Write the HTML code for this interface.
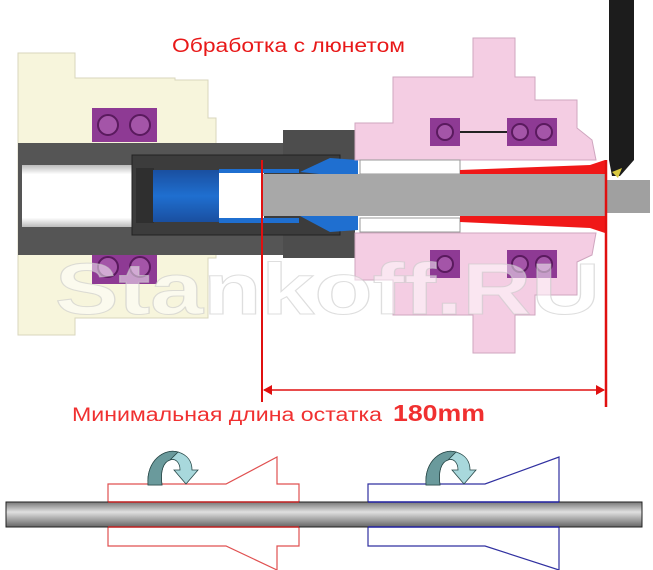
<!DOCTYPE html>
<html><head><meta charset="utf-8"><style>
html,body{margin:0;padding:0;background:#fff;width:653px;height:570px;overflow:hidden}
svg{display:block}
</style></head><body>
<svg width="653" height="570" viewBox="0 0 653 570" xmlns="http://www.w3.org/2000/svg">
<defs>
<linearGradient id="bar" x1="0" y1="0" x2="0" y2="1">
<stop offset="0" stop-color="#777"/><stop offset="0.4" stop-color="#e0e0e0"/><stop offset="1" stop-color="#666"/>
</linearGradient>
<linearGradient id="bore" x1="0" y1="0" x2="0" y2="1">
<stop offset="0" stop-color="#bbb"/><stop offset="0.15" stop-color="#fff"/><stop offset="0.85" stop-color="#fff"/><stop offset="1" stop-color="#bbb"/>
</linearGradient>
<linearGradient id="blue" x1="0" y1="0" x2="0" y2="1">
<stop offset="0" stop-color="#1a4fa0"/><stop offset="0.5" stop-color="#1f6fd0"/><stop offset="1" stop-color="#1a4fa0"/>
</linearGradient>
</defs>
<polygon points="18,53 75,53 75,78 175,78 175,80 208,80 208,118 216,118 216,258 208,258 208,318 75,318 75,335 18,335" fill="#f7f5dc" stroke="#d8d6bd" stroke-width="1"/>
<rect x="92" y="108" width="65" height="34" fill="#8e3a94"/>
<circle cx="108" cy="125" r="10" fill="#a455a8" stroke="#5a1a5e" stroke-width="2"/>
<circle cx="140" cy="125" r="10" fill="#a455a8" stroke="#5a1a5e" stroke-width="2"/>
<rect x="92" y="250" width="65" height="34" fill="#8e3a94"/>
<circle cx="108" cy="267" r="10" fill="#a455a8" stroke="#5a1a5e" stroke-width="2"/>
<circle cx="140" cy="267" r="10" fill="#a455a8" stroke="#5a1a5e" stroke-width="2"/>
<rect x="18" y="143" width="330" height="112" fill="#555"/>
<rect x="283" y="130" width="72" height="128" fill="#4d4d4d"/>
<rect x="22" y="165" width="112" height="62" fill="url(#bore)"/>
<rect x="132" y="155" width="208" height="80" fill="#3c3c3c" stroke="#222"/>
<rect x="136" y="168" width="18" height="55" fill="#2f2f2f"/>
<rect x="153" y="170" width="66" height="52" fill="url(#blue)"/>
<rect x="219" y="170" width="45" height="52" fill="#fff"/>
<rect x="219" y="218" width="80" height="5" fill="#1f6fd0"/>
<rect x="219" y="169" width="80" height="4" fill="#1f6fd0"/>
<polygon points="300,172 330,158 358,160 358,178" fill="#1f6fd0"/>
<polygon points="300,216 330,232 358,230 358,214" fill="#1f6fd0"/>
<polygon points="355,123 393,123 393,77 473,77 473,38 515,38 515,77 535,77 535,100 577,100 577,128 592,140 596,160 355,160" fill="#f4cde3" stroke="#cfa6bf"/>
<polygon points="355,233 596,233 592,255 577,262 577,295 535,295 535,315 515,315 515,353 473,353 473,315 393,315 393,280 355,280" fill="#f4cde3" stroke="#cfa6bf"/>
<rect x="360" y="160" width="100" height="14" fill="#fff" stroke="#999"/>
<rect x="360" y="218" width="100" height="14" fill="#fff" stroke="#999"/>
<polygon points="460,170 590,165 605,160 605,233 590,228 460,222" fill="#f01818"/>
<rect x="430" y="118" width="30" height="28" fill="#8e3a94"/><circle cx="445" cy="132" r="8" fill="#a455a8" stroke="#5a1a5e" stroke-width="2"/>
<line x1="460" y1="132" x2="507" y2="132" stroke="#222" stroke-width="2"/>
<rect x="507" y="118" width="50" height="28" fill="#8e3a94"/><circle cx="520" cy="132" r="8" fill="#a455a8" stroke="#5a1a5e" stroke-width="2"/><circle cx="544" cy="132" r="8" fill="#a455a8" stroke="#5a1a5e" stroke-width="2"/>
<rect x="430" y="250" width="30" height="28" fill="#8e3a94"/><circle cx="445" cy="264" r="8" fill="#a455a8" stroke="#5a1a5e" stroke-width="2"/>
<rect x="507" y="250" width="50" height="28" fill="#8e3a94"/><circle cx="520" cy="264" r="8" fill="#a455a8" stroke="#5a1a5e" stroke-width="2"/><circle cx="544" cy="264" r="8" fill="#a455a8" stroke="#5a1a5e" stroke-width="2"/>
<rect x="262" y="174" width="343" height="42" fill="#a8a8a8"/>
<rect x="605" y="180" width="45" height="33" fill="#a0a0a0"/>
<rect x="609" y="0" width="25" height="160" fill="#1c1c1c"/>
<polygon points="609,160 634,160 620,176 612,176" fill="#1c1c1c"/>
<polygon points="612,172 622,168 618,178" fill="#d8c840"/>
<text x="55" y="314" font-family="Liberation Sans, sans-serif" font-size="72" font-weight="bold" textLength="545" lengthAdjust="spacingAndGlyphs" fill="rgba(255,255,255,0.5)" stroke="rgba(200,200,200,0.6)" stroke-width="1">Stankoff.RU</text>
<line x1="262" y1="160" x2="262" y2="402" stroke="#e01010" stroke-width="2"/>
<line x1="606" y1="160" x2="606" y2="407" stroke="#e01010" stroke-width="2.5"/>
<line x1="264" y1="390" x2="604" y2="390" stroke="#e01010" stroke-width="1.5"/>
<polygon points="263,390 272,385 272,395" fill="#e01010"/>
<polygon points="605,390 596,385 596,395" fill="#e01010"/>
<text x="172" y="52" font-family="Liberation Sans, sans-serif" font-size="19" textLength="233" lengthAdjust="spacingAndGlyphs" fill="#e81818">Обработка с люнетом</text>
<text x="72" y="421" font-family="Liberation Sans, sans-serif" font-size="19" textLength="310" lengthAdjust="spacingAndGlyphs" fill="#f03030">Минимальная длина остатка</text>
<text x="393" y="421" font-family="Liberation Sans, sans-serif" font-size="23" font-weight="bold" textLength="92" lengthAdjust="spacingAndGlyphs" fill="#f03030">180mm</text>
<polygon points="108,484 226,484 277,457 277,484 299,484 299,546 277,546 277,570 226,546 108,546" fill="none" stroke="#e05050" stroke-width="1.2"/>
<polygon points="368,484 485,484 559,457 559,570 485,546 368,546" fill="none" stroke="#3030a0" stroke-width="1.2"/>
<rect x="6" y="502" width="636" height="25" fill="url(#bar)" stroke="#222" stroke-width="1"/>
<line x1="108" y1="502" x2="299" y2="502" stroke="#c02020" stroke-width="1.5"/>
<line x1="108" y1="527" x2="299" y2="527" stroke="#c02020" stroke-width="1.5"/>
<line x1="368" y1="502" x2="559" y2="502" stroke="#2020a0" stroke-width="1.5"/>
<line x1="368" y1="527" x2="559" y2="527" stroke="#2020a0" stroke-width="1.5"/>
<g stroke="#2a4a4a" stroke-width="0.8">
<path d="M148,485 C146,460 165,448 178,452 C188,455 192,462 192,470 L198,470 L186,484 L174,470 L180,470 C180,462 175,458 170,460 C163,462 160,472 162,485 Z" fill="#a8d8dc"/>
<path d="M148,485 C146,460 165,448 178,452 L170,460 C163,462 160,472 162,485 Z" fill="#6a9a9c"/>
<path d="M426,485 C424,460 443,448 456,452 C466,455 470,462 470,470 L476,470 L464,484 L452,470 L458,470 C458,462 453,458 448,460 C441,462 438,472 440,485 Z" fill="#a8d8dc"/>
<path d="M426,485 C424,460 443,448 456,452 L448,460 C441,462 438,472 440,485 Z" fill="#6a9a9c"/>
</g>
</svg>
</body></html>
